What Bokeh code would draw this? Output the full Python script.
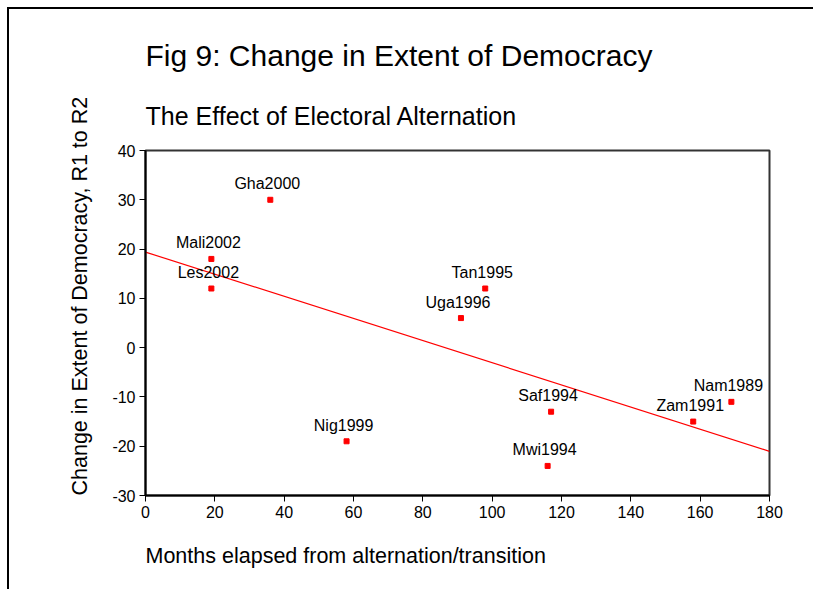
import numpy as np
from bokeh.plotting import figure
from bokeh.models import Range1d, Title, FixedTicker, ColumnDataSource
from bokeh.core.properties import value
from bokeh.embed import file_html
from bokeh.resources import INLINE

# ---- data ----
countries = ["Gha2000", "Mali2002", "Les2002", "Nig1999", "Uga1996",
             "Tan1995", "Saf1994", "Mwi1994", "Zam1991", "Nam1989"]
months = [36, 19, 19, 58, 91, 98, 117, 116, 158, 169]
change = [30, 18, 12, -19, 6, 12, -13, -24, -15, -11]

x_ticks = [0, 20, 40, 60, 80, 100, 120, 140, 160, 180]
y_ticks = [-30, -20, -10, 0, 10, 20, 30, 40]

title_text = "Fig 9: Change in Extent of Democracy"
subtitle_text = "The Effect of Electoral Alternation"
x_label = "Months elapsed from alternation/transition"
y_label = "Change in Extent of Democracy, R1 to R2"

FONT = "Liberation Sans"

# linear regression fit drawn across the x range
slope, intercept = np.polyfit(months, change, 1)
fit_x = [x_ticks[0], x_ticks[-1]]
fit_y = [intercept + slope * v for v in fit_x]

p = figure(width=813, height=589, output_backend="svg", toolbar_location=None,
           x_range=Range1d(x_ticks[0], x_ticks[-1]),
           y_range=Range1d(y_ticks[0], y_ticks[-1]),
           min_border_left=145, min_border_right=44,
           min_border_top=150, min_border_bottom=94,
           background_fill_color="white", border_fill_color=None,
           styles={"vertical-align": "top",
                   "box-shadow": "inset 7px 7px 0 0 white, inset 9px 9px 0 0 black"})

p.xgrid.visible = False
p.ygrid.visible = False
p.outline_line_color = "#333333"
p.outline_line_width = 2

for ax, ticks in ((p.xaxis[0], x_ticks), (p.yaxis[0], y_ticks)):
    ax.ticker = FixedTicker(ticks=ticks)
    ax.major_label_overrides = {t: str(t) for t in ticks}
    ax.axis_line_color = "black"
    ax.axis_line_width = 2
    ax.major_tick_line_color = "black"
    ax.major_tick_line_width = 1
    ax.major_tick_out = 6
    ax.major_tick_in = 0
    ax.minor_tick_out = 0
    ax.minor_tick_in = 0
    ax.major_label_text_font = FONT
    ax.major_label_text_font_size = "16px"
    ax.major_label_text_color = "black"
    ax.major_label_standoff = 4

src = ColumnDataSource(dict(x=months, y=change, name=countries))

p.line(fit_x, fit_y, line_color="red", line_width=1.2)
p.scatter("x", "y", source=src, marker="square", size=5,
          fill_color="red", line_color="red")
p.text("x", "y", text="name", source=src, text_font=value(FONT),
       text_font_size="16px", text_color="black", text_align="center",
       text_baseline="alphabetic", x_offset=-3, y_offset=-16)

# titles (subtitle nearest to the frame, main title above it)
p.add_layout(Title(text=subtitle_text, align="left", text_font=FONT,
                   text_font_size="25px", text_font_style="normal",
                   text_color="black", standoff=41), "above")
p.add_layout(Title(text=title_text, align="left", text_font=FONT,
                   text_font_size="30px", text_font_style="normal",
                   text_color="black", standoff=15), "above")
# axis titles
p.add_layout(Title(text=x_label, align="left", text_font=FONT,
                   text_font_size="21.5px", text_font_style="normal",
                   text_color="black", standoff=43), "below")
p.add_layout(Title(text=y_label, align="left", text_font=FONT,
                   text_font_size="21.5px", text_font_style="normal",
                   text_color="black", standoff=35), "left")

open("out.html", "w").write(file_html(p, INLINE))
